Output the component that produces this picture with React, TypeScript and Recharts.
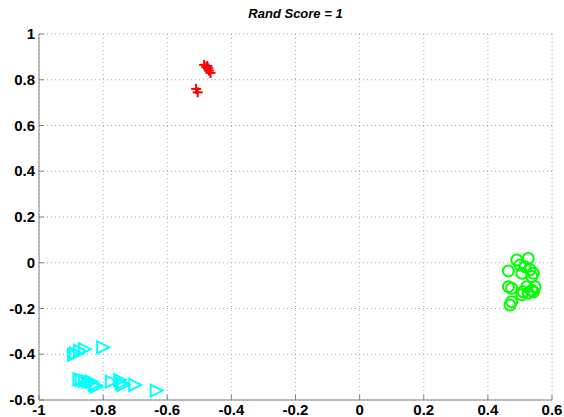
import React from 'react'
import { ScatterChart, Scatter, XAxis, YAxis, CartesianGrid } from 'recharts'

// ─── Data ─────────────────────────────────────────────────────────────────────

const X_TICKS = [-1, -0.8, -0.6, -0.4, -0.2, 0, 0.2, 0.4, 0.6]
const Y_TICKS = [-0.6, -0.4, -0.2, 0, 0.2, 0.4, 0.6, 0.8, 1]

const RED_X = [-0.485, -0.478, -0.472, -0.47, -0.465, -0.475, -0.51, -0.505]
const RED_Y = [0.865, 0.855, 0.85, 0.84, 0.83, 0.86, 0.76, 0.745]

const GREEN_X = [0.49, 0.526, 0.5, 0.516, 0.532, 0.542, 0.464, 0.506, 0.537, 0.464,
  0.474, 0.547, 0.521, 0.51, 0.537, 0.506, 0.526, 0.542, 0.474, 0.469]
const GREEN_Y = [0.012, 0.019, -0.01, -0.017, -0.03, -0.046, -0.036, -0.046, -0.06, -0.105,
  -0.112, -0.105, -0.105, -0.127, -0.12, -0.14, -0.133, -0.127, -0.17, -0.185]

const CYAN_X = [-0.891, -0.885, -0.872, -0.857, -0.8, -0.874, -0.867, -0.857, -0.846,
  -0.836, -0.825, -0.82, -0.773, -0.747, -0.742, -0.737, -0.7, -0.633]
const CYAN_Y = [-0.403, -0.396, -0.385, -0.378, -0.37, -0.51, -0.513, -0.516, -0.52,
  -0.52, -0.534, -0.542, -0.52, -0.513, -0.527, -0.534, -0.534, -0.559]

const toPoints = (xs: number[], ys: number[]) => xs.map((x, i) => ({ x, y: ys[i] }))

const red = toPoints(RED_X, RED_Y)
const green = toPoints(GREEN_X, GREEN_Y)
const cyan = toPoints(CYAN_X, CYAN_Y)

// ─── Styling ──────────────────────────────────────────────────────────────────

const BOX = '#808080'
const FONT = '"Liberation Sans", Arial, sans-serif'
const fmt = (v: number) => String(Math.round(v * 10) / 10)

// ─── Ticks ────────────────────────────────────────────────────────────────────

function BottomTick({ x, y, payload }: any) {
  return (
    <g>
      <line x1={x} y1={y} x2={x} y2={y - 5} stroke={BOX} />
      <text x={x} y={y} dy={15} textAnchor="middle" fontFamily={FONT} fontWeight="bold" fontSize={15} fill="#000">
        {fmt(payload.value)}
      </text>
    </g>
  )
}

function LeftTick({ x, y, payload }: any) {
  return (
    <g>
      <line x1={x} y1={y} x2={x + 5} y2={y} stroke={BOX} />
      <text x={x - 4} y={y} dy={5} textAnchor="end" fontFamily={FONT} fontWeight="bold" fontSize={15} fill="#000">
        {fmt(payload.value)}
      </text>
    </g>
  )
}

function TopTick({ x, y }: any) {
  return <line x1={x} y1={y} x2={x} y2={y + 5} stroke={BOX} />
}

function RightTick({ x, y }: any) {
  return <line x1={x} y1={y} x2={x - 5} y2={y} stroke={BOX} />
}

// ─── Markers ──────────────────────────────────────────────────────────────────

function Plus({ cx, cy }: any) {
  return (
    <g stroke="#ff0000" strokeWidth={2}>
      <line x1={cx - 5} y1={cy} x2={cx + 5} y2={cy} />
      <line x1={cx} y1={cy - 5} x2={cx} y2={cy + 5} />
    </g>
  )
}

function Circle({ cx, cy }: any) {
  return <circle cx={cx} cy={cy} r={5.5} fill="none" stroke="#00ff00" strokeWidth={2} />
}

function Triangle({ cx, cy }: any) {
  const s = 6
  return (
    <polygon
      points={`${cx - s},${cy - s} ${cx + s},${cy} ${cx - s},${cy + s}`}
      fill="none"
      stroke="#00ffff"
      strokeWidth={2}
    />
  )
}

// ─── Component ────────────────────────────────────────────────────────────────

export default function App() {
  return (
    <div style={{ position: 'absolute', left: 0, top: 0, width: 564, height: 417, background: '#fff' }}>
      <div
        style={{
          position: 'absolute',
          left: 39,
          width: 513,
          top: 6,
          textAlign: 'center',
          fontFamily: FONT,
          fontWeight: 'bold',
          fontStyle: 'italic',
          fontSize: 13,
          color: '#000',
        }}
      >
        Rand Score = 1
      </div>
      <ScatterChart width={564} height={417} margin={{ top: 34, right: 12, bottom: 0, left: 0 }}>
        <CartesianGrid stroke="#a8a8a8" strokeDasharray="1 3" />
        <XAxis
          type="number"
          dataKey="x"
          domain={[-1, 0.6]}
          ticks={X_TICKS}
          allowDataOverflow
          height={17}
          tickSize={0}
          tickMargin={0}
          axisLine={{ stroke: BOX }}
          tick={<BottomTick />}
          interval={0}
        />
        <XAxis
          xAxisId="top"
          orientation="top"
          type="number"
          domain={[-1, 0.6]}
          ticks={X_TICKS}
          allowDataOverflow
          height={0}
          tickSize={0}
          tickMargin={0}
          axisLine={{ stroke: BOX }}
          tick={<TopTick />}
          interval={0}
        />
        <YAxis
          type="number"
          dataKey="y"
          domain={[-0.6, 1]}
          ticks={Y_TICKS}
          allowDataOverflow
          width={39}
          tickSize={0}
          tickMargin={0}
          axisLine={{ stroke: BOX }}
          tick={<LeftTick />}
          interval={0}
        />
        <YAxis
          yAxisId="right"
          orientation="right"
          type="number"
          domain={[-0.6, 1]}
          ticks={Y_TICKS}
          allowDataOverflow
          width={0}
          tickSize={0}
          tickMargin={0}
          axisLine={{ stroke: BOX }}
          tick={<RightTick />}
          interval={0}
        />
        <Scatter data={red} shape={<Plus />} isAnimationActive={false} />
        <Scatter data={green} shape={<Circle />} isAnimationActive={false} />
        <Scatter data={cyan} shape={<Triangle />} isAnimationActive={false} />
      </ScatterChart>
    </div>
  )
}
